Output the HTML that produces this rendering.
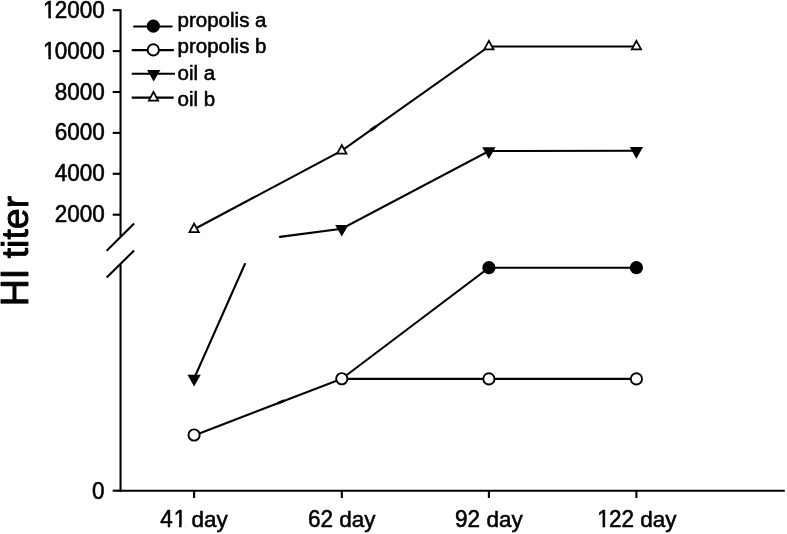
<!DOCTYPE html><html><head><meta charset="utf-8"><title>HI titer</title><style>html,body{margin:0;padding:0;background:#fff;width:787px;height:534px;overflow:hidden}svg{display:block}text{font-family:"Liberation Sans", Arial, sans-serif;fill:#000;stroke:#000;stroke-width:0.55px;stroke-linejoin:round;font-kerning:none}</style></head><body>
<svg width="787" height="534" viewBox="0 0 787 534">
<rect width="100%" height="100%" fill="#fff"/>
<g transform="translate(28.2,251.0) rotate(-90)">
<text transform="translate(-55.22,0) scale(1,1.04)" font-size="37.5" style="stroke-width:0.9px">HI</text>
<text x="-7.30" y="0" font-size="37.5" style="stroke-width:0.9px">titer</text>
</g>
<g stroke="#000" stroke-width="2.1" fill="none">
<line x1="120.55" y1="9.15" x2="120.55" y2="236.3"/>
<line x1="120.55" y1="264.2" x2="120.55" y2="491.75"/>
<line x1="106.7" y1="250.8" x2="134.1" y2="223.6"/>
<line x1="106.7" y1="277.5" x2="134.1" y2="250.5"/>
<line x1="112.7" y1="10.20" x2="120.55" y2="10.20"/>
<line x1="112.7" y1="51.10" x2="120.55" y2="51.10"/>
<line x1="112.7" y1="92.00" x2="120.55" y2="92.00"/>
<line x1="112.7" y1="132.90" x2="120.55" y2="132.90"/>
<line x1="112.7" y1="173.80" x2="120.55" y2="173.80"/>
<line x1="112.7" y1="214.70" x2="120.55" y2="214.70"/>
<line x1="112.7" y1="490.70" x2="120.55" y2="490.70"/>
<line x1="119.5" y1="490.7" x2="784.8" y2="490.7"/>
<line x1="194.1" y1="490.7" x2="194.1" y2="498"/>
<line x1="341.8" y1="490.7" x2="341.8" y2="498"/>
<line x1="488.9" y1="490.7" x2="488.9" y2="498"/>
<line x1="636.4" y1="490.7" x2="636.4" y2="498"/>
</g>
<text transform="translate(42.18,17.70) scale(1,1.04)" font-size="22.5"><tspan dx="0.80">1</tspan><tspan dx="-0.80">2</tspan>000</text>
<text transform="translate(42.18,58.60) scale(1,1.04)" font-size="22.5"><tspan dx="0.80">1</tspan><tspan dx="-0.80">0</tspan>000</text>
<text transform="translate(54.70,99.50) scale(1,1.04)" font-size="22.5">8000</text>
<text transform="translate(54.70,140.40) scale(1,1.04)" font-size="22.5">6000</text>
<text transform="translate(54.70,181.30) scale(1,1.04)" font-size="22.5">4000</text>
<text transform="translate(54.70,222.20) scale(1,1.04)" font-size="22.5">2000</text>
<text transform="translate(92.09,498.60) scale(1,1.04)" font-size="22.5">0</text>
<text transform="translate(160.32,527.10) scale(1,1.04)" font-size="22.5">4<tspan dx="0.80">1</tspan></text>
<text x="191.60" y="527.10" font-size="22.5">day</text>
<text transform="translate(308.02,527.10) scale(1,1.04)" font-size="22.5">62</text>
<text x="339.30" y="527.10" font-size="22.5">day</text>
<text transform="translate(455.12,527.10) scale(1,1.04)" font-size="22.5">92</text>
<text x="486.40" y="527.10" font-size="22.5">day</text>
<text transform="translate(596.37,527.10) scale(1,1.04)" font-size="22.5"><tspan dx="0.80">1</tspan><tspan dx="-0.80">2</tspan>2</text>
<text x="640.16" y="527.10" font-size="22.5">day</text>
<polyline points="194.1,229.2 341.8,150.7 488.9,46.45 636.4,46.45" fill="none" stroke="#000" stroke-width="2.1" stroke-linejoin="miter" stroke-linecap="butt"/>
<polyline points="279.9,236.9 341.8,228.7 488.9,151.0 636.4,150.8" fill="none" stroke="#000" stroke-width="2.1" stroke-linejoin="miter" stroke-linecap="round"/>
<polyline points="244.9,264.0 194.1,378.5" fill="none" stroke="#000" stroke-width="2.1" stroke-linejoin="miter" stroke-linecap="round"/>
<polyline points="341.8,378.75 488.9,267.7 636.4,267.7" fill="none" stroke="#000" stroke-width="2.1" stroke-linejoin="miter" stroke-linecap="butt"/>
<polyline points="194.1,435.5 341.8,378.75 488.9,378.9 636.4,378.9" fill="none" stroke="#000" stroke-width="2.1" stroke-linejoin="miter" stroke-linecap="butt"/>
<line x1="278.3" y1="402.95" x2="283.3" y2="401.03" stroke="#000" stroke-width="2.8" stroke-linecap="round"/>
<line x1="371.3" y1="129.72" x2="375.3" y2="126.88" stroke="#000" stroke-width="3.0" stroke-linecap="round"/>
<polygon points="194.1,221.70 187.95,233.10 200.25,233.10" fill="#000"/><polygon points="194.1,225.39 190.88,231.35 197.32,231.35" fill="#fff"/>
<polygon points="341.8,143.20 335.65,154.60 347.95,154.60" fill="#000"/><polygon points="341.8,146.89 338.58,152.85 345.02,152.85" fill="#fff"/>
<polygon points="488.9,38.95 482.75,50.35 495.05,50.35" fill="#000"/><polygon points="488.9,42.64 485.68,48.60 492.12,48.60" fill="#fff"/>
<polygon points="636.4,38.95 630.25,50.35 642.55,50.35" fill="#000"/><polygon points="636.4,42.64 633.18,48.60 639.62,48.60" fill="#fff"/>
<polygon points="187.45,374.70 200.75,374.70 194.1,386.40" fill="#000"/>
<polygon points="335.15,224.90 348.45,224.90 341.8,236.60" fill="#000"/>
<polygon points="482.25,147.20 495.55,147.20 488.9,158.90" fill="#000"/>
<polygon points="629.75,147.00 643.05,147.00 636.4,158.70" fill="#000"/>
<circle cx="488.9" cy="267.7" r="6.6" fill="#000"/>
<circle cx="636.4" cy="267.7" r="6.6" fill="#000"/>
<circle cx="194.1" cy="435.0" r="5.6" fill="#fff" stroke="#000" stroke-width="1.9"/>
<circle cx="341.8" cy="378.75" r="5.6" fill="#fff" stroke="#000" stroke-width="1.9"/>
<circle cx="488.9" cy="378.9" r="5.6" fill="#fff" stroke="#000" stroke-width="1.9"/>
<circle cx="636.4" cy="378.9" r="5.6" fill="#fff" stroke="#000" stroke-width="1.9"/>
<line x1="133.2" y1="26.5" x2="172.5" y2="26.5" stroke="#000" stroke-width="2.1"/>
<circle cx="153.3" cy="26.1" r="6.6" fill="#000"/>
<text x="177.6" y="27.1" font-size="20.5">propolis a</text>
<line x1="131.7" y1="50.1" x2="173.9" y2="50.1" stroke="#000" stroke-width="2.1"/>
<circle cx="153.3" cy="49.9" r="5.6" fill="#fff" stroke="#000" stroke-width="1.9"/>
<text x="177.6" y="53.3" font-size="20.5">propolis b</text>
<line x1="131.7" y1="73.7" x2="175.0" y2="73.7" stroke="#000" stroke-width="2.1"/>
<polygon points="147.05,69.90 160.35,69.90 153.7,81.60" fill="#000"/>
<text x="177.6" y="79.5" font-size="20.5">oil a</text>
<line x1="131.7" y1="97.6" x2="173.7" y2="97.6" stroke="#000" stroke-width="2.1"/>
<polygon points="153.5,90.10 147.35,101.50 159.65,101.50" fill="#000"/><polygon points="153.5,93.79 150.28,99.75 156.72,99.75" fill="#fff"/>
<text x="177.6" y="105.6" font-size="20.5">oil b</text>
<rect x="43.70" y="15.33" width="4.62" height="3.67" fill="#fff"/>
<rect x="50.95" y="15.33" width="4.14" height="3.67" fill="#fff"/>
<rect x="43.70" y="56.23" width="4.62" height="3.67" fill="#fff"/>
<rect x="50.95" y="56.23" width="4.14" height="3.67" fill="#fff"/>
<rect x="174.35" y="524.73" width="4.62" height="3.67" fill="#fff"/>
<rect x="181.61" y="524.73" width="4.14" height="3.67" fill="#fff"/>
<rect x="597.88" y="524.73" width="4.62" height="3.67" fill="#fff"/>
<rect x="605.14" y="524.73" width="4.14" height="3.67" fill="#fff"/>
</svg></body></html>
